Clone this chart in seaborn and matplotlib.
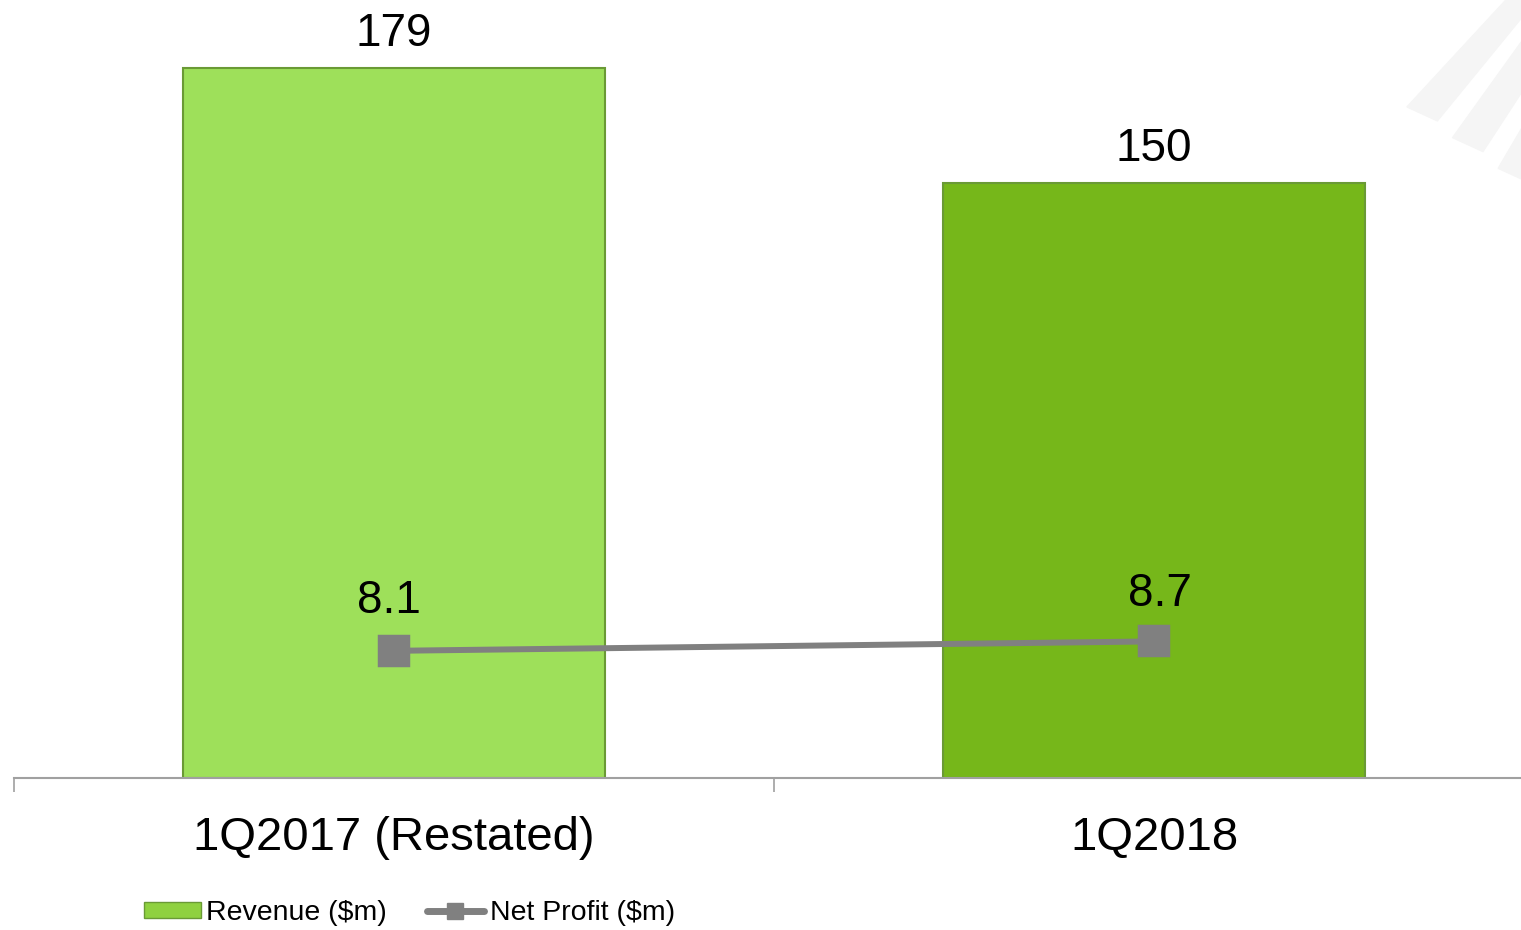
import matplotlib
matplotlib.use("Agg")
import matplotlib.pyplot as plt
import matplotlib.patches as mpatches
from matplotlib.lines import Line2D
import seaborn as sns
import pandas as pd

quarters = ["1Q2017 (Restated)", "1Q2018"]
revenue = [179, 150]
net_profit = [8.1, 8.7]
bar_colors = ["#9ee05a", "#76b71a"]
line_color = "#808080"

sns.set_style("white")
plt.rcParams["font.family"] = ["Liberation Sans", "DejaVu Sans"]
plt.rcParams["text.color"] = "black"
plt.rcParams["xtick.color"] = "black"

df = pd.DataFrame({"quarter": quarters, "revenue": revenue, "profit": net_profit})

fig = plt.figure(figsize=(15.21, 9.30), dpi=100)
ax = fig.add_axes([14 / 1521, 1 - 778 / 930, 1520 / 1521, 778 / 930])

sns.barplot(data=df, x="quarter", y="revenue", hue="quarter", palette=bar_colors,
            saturation=1, width=0.556, edgecolor="#6a9a35", linewidth=1.5,
            legend=False, ax=ax)

ax2 = ax.twinx()
sns.pointplot(data=df, x="quarter", y="profit", color=line_color, marker="s",
              markersize=20, linewidth=4.3, ax=ax2)

ax.set_xlim(-0.5, 1.5)
ax.set_ylim(0, 196.2)
ax2.set_ylim(0, 49.55)

# value labels
for i, v in enumerate(revenue):
    ax.annotate(f"{v:g}", (i, v), xytext=(0, 9), textcoords="offset points",
                ha="center", va="bottom", fontsize=33)
for i, v in enumerate(net_profit):
    ax2.annotate(f"{v:g}", (i, v), xytext=(-4 if i == 0 else 4, 20 if i == 0 else 18),
                 textcoords="offset points", ha="center", va="bottom", fontsize=33)

for a in (ax, ax2):
    a.set_xlabel("")
    a.set_ylabel("")
    a.set_yticks([])
    for s in ("top", "right", "left", "bottom"):
        a.spines[s].set_visible(False)

ax.spines["bottom"].set_visible(True)
ax.spines["bottom"].set_color("#a0a0a0")
ax.spines["bottom"].set_linewidth(1.5)
ax.set_xticks([0, 1])
ax.set_xticklabels(quarters, fontsize=34)
ax.set_xticks([-0.5, 0.5, 1.5], minor=True)
ax.tick_params(axis="x", which="major", length=0, pad=27)
ax.tick_params(axis="x", which="minor", length=10, width=1.2, color="#a0a0a0", bottom=True)

# faint watermark in the corner
for k in range(3):
    dx = k * 0.03
    poly = mpatches.Polygon([[0.925 + dx, 0.885 - dx * 1.1], [0.99 + dx, 1.0],
                             [1.01 + dx, 1.0], [0.945 + dx, 0.87 - dx * 1.1]],
                            closed=True, transform=fig.transFigure,
                            color="#f5f5f5", zorder=0)
    fig.patches.append(poly)

handles = [mpatches.Patch(facecolor="#8fd13f", edgecolor="#6a9a35"),
           Line2D([0], [0], color=line_color, lw=5, marker="s", markersize=11)]
fig.legend(handles, ["Revenue ($m)", "Net Profit ($m)"], loc="center left",
           bbox_to_anchor=(118 / 1521, 1 - 913 / 930), ncol=2, frameon=False,
           fontsize=20.5, handlelength=2.0, handleheight=0.5, handletextpad=0.2,
           columnspacing=1.4)

fig.savefig("out.png", dpi=100)
